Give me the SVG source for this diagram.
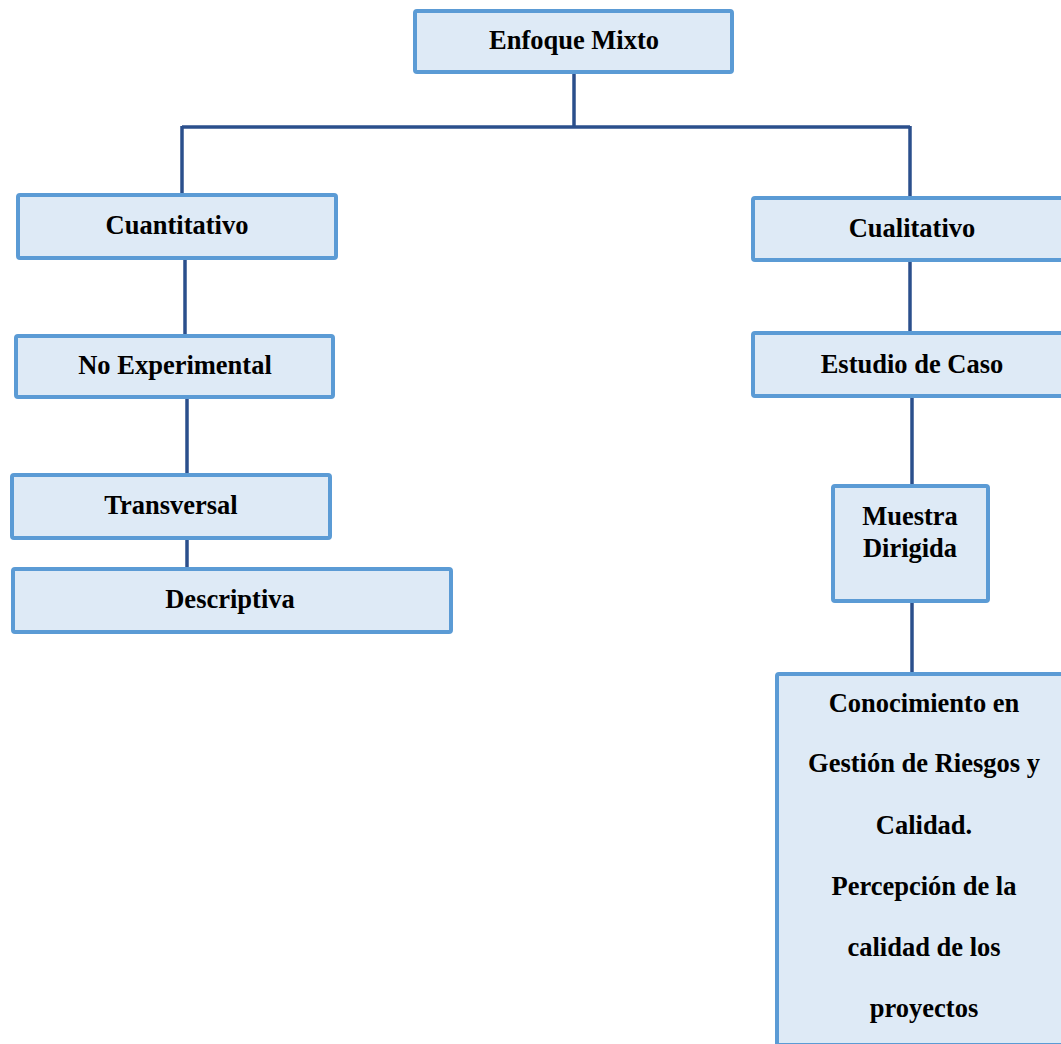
<svg xmlns="http://www.w3.org/2000/svg" width="1061" height="1044" viewBox="0 0 1061 1044">
<style>
.box{fill:#DEEAF6;stroke:#5B9BD5;stroke-width:4}
.lbl{font-family:"Liberation Serif","Times New Roman",serif;font-weight:bold;font-size:26.5px;fill:#000;text-anchor:middle}
.con{stroke:#2B4F8C;stroke-width:3.5;fill:none}
</style>
<rect width="1061" height="1044" fill="#fff"/>
<g id="connectors">
<path class="con" d="M574 74V127"/>
<path class="con" d="M182 127H910"/>
<path class="con" d="M182 126V193"/>
<path class="con" d="M910 126V196"/>
<path class="con" d="M185 260V334"/>
<path class="con" d="M187 399V473"/>
<path class="con" d="M187 540V567"/>
<path class="con" d="M910 262V331"/>
<path class="con" d="M912 398V484"/>
<path class="con" d="M912 603V672"/>
</g>
<g id="enfoque-mixto"><rect class="box" x="415" y="11" width="317" height="61" rx="2"/><text class="lbl" x="574" y="49">Enfoque Mixto</text></g>
<g id="cuantitativo"><rect class="box" x="18" y="195" width="318" height="63" rx="2"/><text class="lbl" x="177" y="234">Cuantitativo</text></g>
<g id="no-experimental"><rect class="box" x="16" y="336" width="317" height="61" rx="2"/><text class="lbl" x="175" y="374">No Experimental</text></g>
<g id="transversal"><rect class="box" x="12" y="475" width="318" height="63" rx="2"/><text class="lbl" x="171" y="514">Transversal</text></g>
<g id="descriptiva"><rect class="box" x="13" y="569" width="438" height="63" rx="2"/><text class="lbl" x="230" y="608">Descriptiva</text></g>
<g id="cualitativo"><rect class="box" x="753" y="198" width="320" height="62" rx="2"/><text class="lbl" x="912" y="237">Cualitativo</text></g>
<g id="estudio-de-caso"><rect class="box" x="753" y="333" width="320" height="63" rx="2"/><text class="lbl" x="912" y="373">Estudio de Caso</text></g>
<g id="muestra-dirigida"><rect class="box" x="833" y="486" width="155" height="115" rx="2"/><text class="lbl" x="910" y="525">Muestra</text><text class="lbl" x="910" y="557">Dirigida</text></g>
<g id="conocimiento"><rect class="box" x="777" y="674" width="300" height="371" rx="2"/>
<text class="lbl" x="924" y="712">Conocimiento en</text>
<text class="lbl" x="924" y="772">Gestión de Riesgos y</text>
<text class="lbl" x="924" y="834">Calidad.</text>
<text class="lbl" x="924" y="895">Percepción de la</text>
<text class="lbl" x="924" y="956">calidad de los</text>
<text class="lbl" x="924" y="1017">proyectos</text>
</g>
</svg>
